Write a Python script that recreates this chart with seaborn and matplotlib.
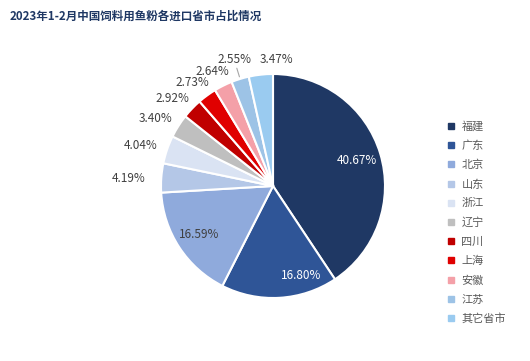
import numpy as np
import seaborn as sns
import matplotlib.pyplot as plt
from matplotlib.lines import Line2D

# data
provinces = ['福建', '广东', '北京', '山东', '浙江', '辽宁', '四川', '上海', '安徽', '江苏', '其它省市']
shares = [40.67, 16.80, 16.59, 4.19, 4.04, 3.40, 2.92, 2.73, 2.64, 2.55, 3.47]
colors = ['#1F3864', '#2F5597', '#8FAADC', '#B4C7E7', '#DAE3F3', '#BFBFBF',
          '#C00000', '#E00000', '#F4A0A8', '#9DC3E6', '#9ACBF0']

sns.set_theme(style='white')
plt.rcParams['font.family'] = ['Noto Sans CJK SC', 'DejaVu Sans']

fig = plt.figure(figsize=(5.3, 3.61), dpi=100)
ax = fig.add_axes([0, 0, 1, 1])

cx, cy, r = 273, 175, 112
wedges, _ = ax.pie(shares, colors=sns.color_palette(colors), startangle=90, counterclock=False,
                   center=(cx, cy), radius=r,
                   wedgeprops=dict(edgecolor='white', linewidth=1.5))
ax.set_xlim(0, 530)
ax.set_ylim(0, 361)
ax.set_aspect('equal')
ax.axis('off')

# label placement (radius factor of text centre), inside for the three big slices
label_dist = {'福建': 0.78, '广东': 0.84, '北京': 0.79, '山东': 1.29, '浙江': 1.24,
              '辽宁': 1.21, '四川': 1.19, '上海': 1.17, '安徽': 1.16, '江苏': 1.18,
              '其它省市': 1.13}
angle_nudge = {'广东': 14, '其它省市': -8, '山东': 1, '浙江': 2, '辽宁': 2.5,
               '四川': 2.5, '上海': 2, '安徽': 1.5}
for w, name, val in zip(wedges, provinces, shares):
    mid = (w.theta1 + w.theta2) / 2 + angle_nudge.get(name, 0)
    d = label_dist[name]
    col = 'white' if name in ('福建', '广东') else '#404040'
    x = cx + d * r * np.cos(np.radians(mid))
    y = cy + d * r * np.sin(np.radians(mid))
    ax.text(x, y, f'{val:.2f}%', ha='center', va='center', fontsize=8.5, color=col)
    if name == '江苏':
        a = np.radians((w.theta1 + w.theta2) / 2)
        ax.plot([cx + 1.02 * r * np.cos(a), cx + 1.10 * r * np.cos(a)],
                [cy + 1.02 * r * np.sin(a), cy + 1.10 * r * np.sin(a)],
                color='#A6A6A6', lw=0.8)

fig.text(0.019, 0.955, '2023年1-2月中国饲料用鱼粉各进口省市占比情况', fontsize=8.3,
         fontweight='bold', color='#1F3864', ha='left', va='center')

handles = [Line2D([0], [0], marker='s', linestyle='', markersize=5, markerfacecolor=c,
                  markeredgecolor=c) for c in colors]
leg = ax.legend(handles, provinces, loc='upper left', bbox_to_anchor=(0.835, 0.678),
                frameon=False, fontsize=8, labelspacing=0.8, handlelength=0.8,
                handletextpad=0.5, borderaxespad=0)
for t in leg.get_texts():
    t.set_color('#595959')

fig.savefig('out.png', dpi=100)
